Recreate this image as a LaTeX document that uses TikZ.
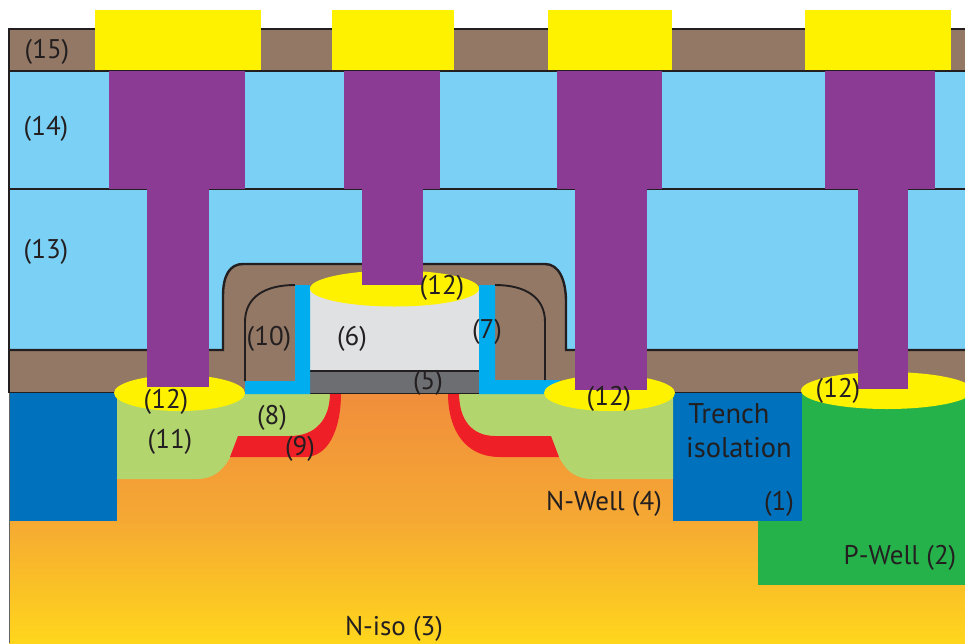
\documentclass[tikz,border=0pt]{standalone}
\usepackage{fontspec}
\setmainfont{PT Sans}
\definecolor{sky}{HTML}{7BD0F6}
\definecolor{brownox}{HTML}{937865}
\definecolor{trench}{HTML}{0071BC}
\definecolor{pwell}{HTML}{26B24B}
\definecolor{lgreen}{HTML}{B3D56E}
\definecolor{viap}{HTML}{8C3B94}
\definecolor{pad}{HTML}{FFF200}
\definecolor{spacer}{HTML}{00AEEF}
\definecolor{redi}{HTML}{EE1F27}
\definecolor{poly}{HTML}{E0E1E3}
\definecolor{oxide}{HTML}{6D6E71}
\definecolor{inkc}{HTML}{231F20}
\tikzset{
  fillonly/.style={fill=#1,draw=none},
  edge line/.style={draw=inkc,line width=2.4pt},
  thin line/.style={draw=inkc,line width=1.9pt},
  lab/.style={text=inkc,font=\fontsize{27}{32}\selectfont,inner sep=0pt,anchor=center},
}
\begin{document}
\begin{tikzpicture}[x=1pt,y=-1pt]
\useasboundingbox (0,0) rectangle (965,643);
\clip (0,0) rectangle (965,643);
% substrate
\shade[shading=axis,top color={rgb,255:red,241;green,142;blue,60},bottom color={rgb,255:red,255;green,214;blue,28},middle color={rgb,255:red,245;green,168;blue,51}] (9,393) rectangle (965,643);
% layers
\fill[fillonly=brownox] (9,29) rectangle (965,71);
\fill[fillonly=sky] (9,71) rectangle (965,350);
\fill[fillonly=brownox] (9,393.5) -- (9,350) -- (223,350) -- (223,296) .. controls (223,275) and (230,264) .. (243,264) -- (545,264) .. controls (559,264) and (566,280) .. (566,302) -- (566,350) -- (965,350) -- (965,393.5) -- cycle;
% wells and isolation
\fill[fillonly=pwell] (758,392) rectangle (965,585);
\fill[fillonly=trench] (9,392) rectangle (117,521);
\fill[fillonly=trench] (673,392) rectangle (802,521);
% source/drain left
\fill[fillonly=lgreen] (117,393) -- (330,393) .. controls (330,420) and (315,436) .. (290,436) -- (238,436) .. controls (232,458) and (222,479) .. (197,479) -- (117,479) -- cycle;
\fill[fillonly=redi] (330,393) .. controls (330,420) and (315,436) .. (290,436) -- (238,436) -- (230,457) -- (305,457) .. controls (328,457) and (341,430) .. (341,393) -- cycle;
% source/drain right
\fill[fillonly=lgreen] (673,393) -- (459,393) .. controls (459,420) and (472,436) .. (495,436) -- (551,436) .. controls (558,458) and (566,479) .. (592,479) -- (673,479) -- cycle;
\fill[fillonly=redi] (448,393) .. controls (448,430) and (465,457) .. (500,457) -- (559,457) -- (551,436) -- (495,436) .. controls (472,436) and (459,420) .. (459,393) -- cycle;
% gate
\fill[fillonly=poly] (310,288) rectangle (479,371);
\fill[fillonly=oxide] (310,371) rectangle (479,393.5);
\draw[thin line] (310,371) -- (479,371);
\draw[thin line] (310,393.5) -- (479,393.5);
% spacers
\fill[fillonly=spacer] (295,285) -- (310,285) -- (310,394) -- (245,394) -- (245,381) -- (295,381) -- cycle;
\fill[fillonly=spacer] (495,285) -- (479,285) -- (479,394) -- (560,394) -- (560,380) -- (495,380) -- cycle;
\draw[thin line] (295,285) .. controls (265,285) and (245,297) .. (245,322) -- (245,381);
\draw[thin line] (495,285) .. controls (525,285) and (545,297) .. (545,322) -- (545,380);
% contour lines
\draw[edge line] (9,350) -- (223,350) -- (223,296) .. controls (223,275) and (230,264) .. (243,264) -- (545,264) .. controls (559,264) and (566,280) .. (566,302) -- (566,350) -- (965,350);
\draw[edge line] (9,29) -- (965,29);
\draw[edge line] (9,71) -- (965,71);
\draw[edge line] (9,189) -- (965,189);
\draw[thin line] (9,392.5) -- (117,392.5);
\draw[thin line] (673,392.5) -- (802,392.5);
\draw[edge line] (9,28) -- (9,393);
\draw[draw=inkc!70,line width=0.8pt] (9,393) -- (9,643);
% silicide ellipses
\fill[fillonly=pad] (394.5,288.5) ellipse [x radius=84.5,y radius=18];
\fill[fillonly=pad] (179.5,393) ellipse [x radius=65.5,y radius=18];
\fill[fillonly=pad] (609.5,393) ellipse [x radius=65.5,y radius=18];
\fill[fillonly=pad] (887,390.5) ellipse [x radius=86,y radius=18.5];
% vias
\fill[fillonly=viap] (109,71) rectangle (245,189);
\fill[fillonly=viap] (147,189) rectangle (209,387);
\fill[fillonly=viap] (344,71) rectangle (440,189);
\fill[fillonly=viap] (362,189) rectangle (423,285);
\fill[fillonly=viap] (557,71) rectangle (662,189);
\fill[fillonly=viap] (575,189) rectangle (647,390);
\fill[fillonly=viap] (825,71) rectangle (935,189);
\fill[fillonly=viap] (858,189) rectangle (908,389);
% pads
\fill[fillonly=pad] (95,10) rectangle (261,70);
\fill[fillonly=pad] (332,10) rectangle (454,70);
\fill[fillonly=pad] (548,10) rectangle (672,70);
\fill[fillonly=pad] (805,10) rectangle (951,70);
% labels
\node[lab] (l15) at (47,52) {(15)};
\node[lab] (l14) at (46,129) {(14)};
\node[lab] (l13) at (46,252) {(13)};
\node[lab] (l12a) at (442,288) {(12)};
\node[lab] (l10) at (269,339) {(10)};
\node[lab] (l6) at (352,339) {(6)};
\node[lab] (l7) at (487,332) {(7)};
\node[lab] (l5) at (428,383) {(5)};
\node[lab] (l12b) at (166,402) {(12)};
\node[lab] (l8) at (272,418) {(8)};
\node[lab] (l9) at (300,449) {(9)};
\node[lab] (l11) at (170,442) {(11)};
\node[lab] (l12c) at (609,399) {(12)};
\node[lab] (l12d) at (838,391) {(12)};
\node[lab,font=\fontsize{28.5}{32}\selectfont] (tr1) at (729,414) {Trench};
\node[lab,font=\fontsize{28.5}{32}\selectfont] (tr2) at (739,448) {isolation};
\node[lab] (l1) at (779,504) {(1)};
\node[lab] (l4) at (604,504) {N-Well (4)};
\node[lab] (l2) at (900,558) {P-Well (2)};
\node[lab] (l3) at (394,629) {N-iso (3)};
\end{tikzpicture}
\end{document}
